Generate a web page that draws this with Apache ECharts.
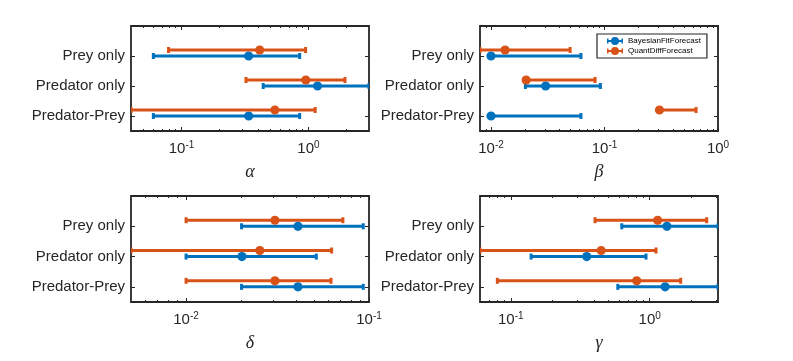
<!DOCTYPE html>
<html>
<head>
    <meta charset="utf-8">
    <title>Parameter forecasts</title>
    <style>
        body {
            margin: 0;
            background: #fff;
        }

        #ec {
            width: 793px;
            height: 361px;
        }
    </style>
</head>
<body>
    <div id="ec"></div>
    <script src="https://cdn.jsdelivr.net/npm/echarts@6/dist/echarts.min.js"></script>
    <script>
        // categories, from top to bottom
        var categories = ['Prey only', 'Predator only', 'Predator-Prey'];
        var catPos = [3, 2, 1];
        var methods = ['BayesianFitForecast', 'QuantDiffForecast'];

        // [lower, estimate, upper] for each category
        var alphaBayes = [[0.060, 0.338, 0.853], [0.44, 1.18, 3.0], [0.060, 0.338, 0.853]];
        var alphaQuant = [[0.079, 0.413, 0.95], [0.322, 0.953, 1.94], [0.04, 0.544, 1.13]];
        var betaBayes = [[0.01, 0.01, 0.062], [0.0201, 0.0303, 0.092], [0.01, 0.01, 0.062]];
        var betaQuant = [[0.008, 0.0133, 0.0498], [0.0204, 0.0204, 0.0826], [0.305, 0.305, 0.641]];
        var deltaBayes = [[0.0201, 0.0409, 0.093], [0.01, 0.0202, 0.0515], [0.0201, 0.0409, 0.093]];
        var deltaQuant = [[0.01, 0.0306, 0.072], [0.005, 0.0253, 0.0625], [0.01, 0.0306, 0.062]];
        var gammaBayes = [[0.629, 1.33, 3.1], [0.14, 0.352, 0.94], [0.589, 1.29, 3.1]];
        var gammaQuant = [[0.404, 1.14, 2.57], [0.06, 0.447, 1.11], [0.08, 0.806, 1.67]];

        // axis limits and major ticks
        var alphaRange = [0.04, 3.0];
        var betaRange = [0.008, 1];
        var deltaRange = [0.005, 0.1];
        var gammaRange = [0.06, 3.1];
        var alphaTicks = [0.1, 1];
        var betaTicks = [0.01, 0.1, 1];
        var deltaTicks = [0.01, 0.1];
        var gammaTicks = [0.1, 1];

        var panels = [
            {name: 'α', bayes: alphaBayes, quant: alphaQuant, range: alphaRange, ticks: alphaTicks},
            {name: 'β', bayes: betaBayes, quant: betaQuant, range: betaRange, ticks: betaTicks},
            {name: 'δ', bayes: deltaBayes, quant: deltaQuant, range: deltaRange, ticks: deltaTicks},
            {name: 'γ', bayes: gammaBayes, quant: gammaQuant, range: gammaRange, ticks: gammaTicks}
        ];

        var grids = [
            {left: 131, top: 26, width: 238, height: 105},
            {left: 480, top: 26, width: 238, height: 105},
            {left: 131, top: 196, width: 238, height: 106},
            {left: 480, top: 196, width: 238, height: 106}
        ];

        var colors = ['#0072BD', '#D95319'];
        var offsets = [0, 0.2];
        var axisColor = '#262626';
        var font = '"Liberation Sans", Arial, sans-serif';

        // minor ticks 2..9 x 10^k inside the range
        function minorTicks(range) {
            var out = [];
            for (var e = -4; e <= 1; e++) {
                for (var k = 2; k <= 9; k++) {
                    var v = k * Math.pow(10, e);
                    if (v > range[0] && v < range[1]) out.push(v);
                }
            }
            return out;
        }

        function renderBar(color) {
            return function (params, api) {
                var y = api.value(3);
                var lo = api.coord([api.value(0), y]);
                var mid = api.coord([api.value(1), y]);
                var hi = api.coord([api.value(2), y]);
                var st = {stroke: color, lineWidth: 3};
                return {
                    type: 'group',
                    children: [
                        {type: 'line', shape: {x1: lo[0], y1: lo[1], x2: hi[0], y2: hi[1]}, style: st},
                        {type: 'line', shape: {x1: lo[0], y1: lo[1] - 3, x2: lo[0], y2: lo[1] + 3}, style: st},
                        {type: 'line', shape: {x1: hi[0], y1: hi[1] - 3, x2: hi[0], y2: hi[1] + 3}, style: st},
                        {type: 'circle', shape: {cx: mid[0], cy: mid[1], r: 4.6}, style: {fill: color}}
                    ]
                };
            };
        }

        var xAxes = [], yAxes = [], series = [];

        panels.forEach(function (p, i) {
            var minors = minorTicks(p.range);
            ['bottom', 'top'].forEach(function (pos) {
                xAxes.push({
                    gridIndex: i, type: 'log', logBase: 10,
                    min: p.range[0], max: p.range[1], position: pos,
                    axisLine: {show: false}, splitLine: {show: false},
                    axisTick: {inside: true, length: 4, customValues: p.ticks,
                        lineStyle: {color: axisColor, width: 1}},
                    axisLabel: pos === 'bottom' ? {
                        customValues: p.ticks,
                        margin: 9,
                        formatter: function (v) {
                            return '{b|10}{s|' + Math.round(Math.log10(v)) + '}';
                        },
                        rich: {
                            b: {fontSize: 15, fontFamily: font, color: axisColor},
                            s: {fontSize: 10, fontFamily: font, color: axisColor, padding: [0, 0, 7, 0]}
                        }
                    } : {show: false},
                    name: pos === 'bottom' ? p.name : '',
                    nameLocation: 'middle',
                    nameGap: 32,
                    nameTextStyle: {fontSize: 18, fontStyle: 'italic',
                        fontFamily: '"Liberation Serif", "DejaVu Serif", serif', color: axisColor}
                });
                xAxes.push({
                    gridIndex: i, type: 'log', logBase: 10,
                    min: p.range[0], max: p.range[1], position: pos,
                    axisLine: {show: false}, splitLine: {show: false},
                    axisTick: {inside: true, length: 2, customValues: minors,
                        lineStyle: {color: axisColor, width: 1}},
                    axisLabel: {show: false}
                });
            });

            ['left', 'right'].forEach(function (pos) {
                yAxes.push({
                    gridIndex: i, type: 'value', min: 0.5, max: 4, position: pos,
                    axisLine: {show: false}, splitLine: {show: false},
                    axisTick: {inside: true, length: 4, customValues: catPos,
                        lineStyle: {color: axisColor, width: 1}},
                    axisLabel: pos === 'left' ? {
                        customValues: catPos,
                        margin: 6,
                        fontSize: 15, fontFamily: font, color: axisColor,
                        formatter: function (v) {
                            return categories[catPos.indexOf(v)];
                        }
                    } : {show: false}
                });
            });

            [p.bayes, p.quant].forEach(function (vals, m) {
                series.push({
                    type: 'custom',
                    name: methods[m],
                    xAxisIndex: i * 4,
                    yAxisIndex: i * 2,
                    clip: true,
                    itemStyle: {color: colors[m]},
                    renderItem: renderBar(colors[m]),
                    encode: {x: [0, 1, 2], y: 3},
                    data: vals.map(function (r, c) {
                        return [r[0], r[1], r[2], catPos[c] + offsets[m]];
                    })
                });
            });
        });

        var icon = 'path://M0,3H16V5H0Z M0,1.5H1.5V6.5H0Z M14.5,1.5H16V6.5H14.5Z M12,4A4,4 0 1 1 4,4A4,4 0 1 1 12,4Z';

        var chart = echarts.init(document.getElementById('ec'));
        chart.setOption({
            animation: false,
            backgroundColor: '#fff',
            grid: grids.map(function (g) {
                return {left: g.left, top: g.top, width: g.width, height: g.height,
                    show: true, borderColor: axisColor, borderWidth: 1.8, backgroundColor: 'transparent'};
            }),
            legend: {
                left: 597, top: 34, orient: 'vertical',
                data: methods.map(function (n) { return {name: n, icon: icon}; }),
                itemWidth: 16, itemHeight: 8, itemGap: 2,
                padding: [3, 6, 3, 10],
                borderColor: axisColor, borderWidth: 1.2,
                backgroundColor: '#fff',
                selectedMode: false,
                textStyle: {fontSize: 8, fontFamily: font, color: '#000'}
            },
            xAxis: xAxes,
            yAxis: yAxes,
            series: series
        });
    </script>
</body>
</html>
